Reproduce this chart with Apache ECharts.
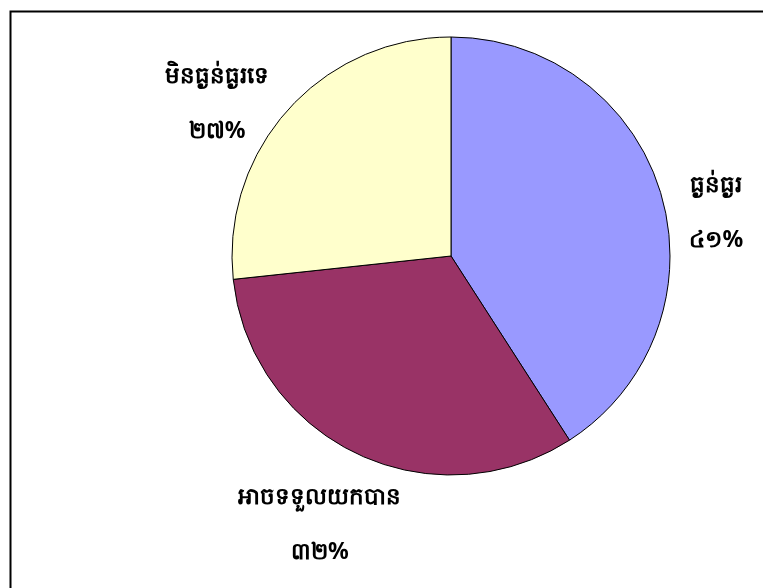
<!DOCTYPE html>
<html><head><meta charset="utf-8">
<script src="https://cdn.jsdelivr.net/npm/echarts@6/dist/echarts.min.js"></script>
<style>html,body{margin:0;padding:0;background:#fff}#c{width:763px;height:588px}</style>
</head><body><div id="c"></div>
<script>
const categories = ['ធ្ងន់ធ្ងរ', 'អាចទទួលយកបាន', 'មិនធ្ងន់ធ្ងរទេ'];
const values = [40.9, 32.4, 26.7];
const colors = ['#9999FF', '#993366', '#FFFFCC'];
const khmerDigits = '០១២៣៤៥៦៧៨៩';
const toKhmer = n => String(n).replace(/[0-9]/g, d => khmerDigits[+d]);
const labelShift = [[31, 24], [-23, 53], [-51, 8]];

const chart = echarts.init(document.getElementById('c'), null, {renderer: 'canvas'});
chart.setOption({
  animation: false,
  backgroundColor: '#fff',
  graphic: [{
    type: 'rect', left: 8, top: 9, z: 0,
    shape: {width: 800, height: 620},
    style: {fill: 'none', stroke: '#000', lineWidth: 2}
  }],
  series: [{
    type: 'pie',
    center: [451, 256],
    radius: 219,
    startAngle: 90,
    clockwise: true,
    data: categories.map((c, i) => ({name: c, value: values[i], itemStyle: {color: colors[i]}})),
    itemStyle: {borderColor: '#000', borderWidth: 1},
    label: {
      show: true, position: 'outside',
      formatter: p => p.name + '\n\n' + toKhmer(Math.round(p.percent)) + '%',
      color: '#000', fontSize: 23, fontWeight: 'bold', lineHeight: 27.5,
      fontFamily: '"Noto Sans", sans-serif'
    },
    labelLine: {show: false, length: 20, length2: 0},
    labelLayout: p => ({dx: labelShift[p.dataIndex][0], dy: labelShift[p.dataIndex][1], align: 'center'}),
    emphasis: {disabled: true}
  }]
});
</script></body></html>
